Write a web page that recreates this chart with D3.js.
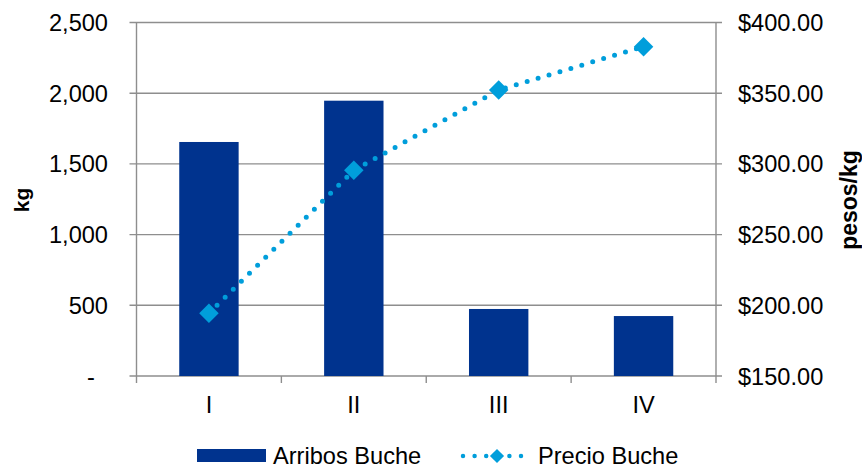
<!DOCTYPE html>
<html>
<head>
<meta charset="utf-8">
<script src="https://cdn.jsdelivr.net/npm/d3@7"></script>
<style>
  html, body { margin: 0; padding: 0; background: #fff; }
  svg { display: block; font-family: "Liberation Sans", Arial, sans-serif; }
</style>
</head>
<body>
<svg id="chart" width="862" height="468"></svg>
<script>
const categories = ["I", "II", "III", "IV"];
const arribos = [1655, 1947, 474, 424];
const precio = [194.3, 295.5, 352.3, 382.9];
const leftTicks = [0, 500, 1000, 1500, 2000, 2500];
const leftTickLabels = ["-\u2007", "500", "1,000", "1,500", "2,000", "2,500"];
const rightTicks = [150, 200, 250, 300, 350, 400];
const seriesNames = ["Arribos Buche", "Precio Buche"];

const barColor = "#00338e";
const lineColor = "#009edb";
const gridColor = "#8e8e8e";
const fs = 23.6;

const svg = d3.select("#chart");
const x0 = 136.5, x1 = 716, yTop = 22.5, yBot = 376;

const x = d3.scaleBand().domain(categories).range([x0, x1]).padding(0);
const yL = d3.scaleLinear().domain([0, 2500]).range([yBot, yTop]);
const yR = d3.scaleLinear().domain([150, 400]).range([yBot, yTop]);

// gridlines
svg.append("g").selectAll("line").data(leftTicks).join("line")
  .attr("x1", x0 - 7).attr("x2", x1 + 6)
  .attr("y1", d => yL(d)).attr("y2", d => yL(d))
  .attr("stroke", gridColor).attr("stroke-width", 1.4);

// vertical axis lines
svg.append("line").attr("x1", x0).attr("x2", x0).attr("y1", yTop).attr("y2", yBot + 7)
  .attr("stroke", gridColor).attr("stroke-width", 1.4);
svg.append("line").attr("x1", x1).attr("x2", x1).attr("y1", yTop).attr("y2", yBot + 7)
  .attr("stroke", gridColor).attr("stroke-width", 1.4);

// category boundary ticks
const bounds = categories.map(c => x(c)).slice(1);
svg.append("g").selectAll("line").data(bounds).join("line")
  .attr("x1", d => d).attr("x2", d => d).attr("y1", yBot).attr("y2", yBot + 7)
  .attr("stroke", gridColor).attr("stroke-width", 1.4);

// bars
const bw = x.bandwidth() * 0.41;
svg.append("g").selectAll("rect").data(arribos).join("rect")
  .attr("x", (d, i) => x(categories[i]) + x.bandwidth() / 2 - bw / 2)
  .attr("width", bw)
  .attr("y", d => yL(d))
  .attr("height", d => yBot - yL(d))
  .attr("fill", barColor);

// price line
const cx = i => x(categories[i]) + x.bandwidth() / 2;
const line = d3.line().x((d, i) => cx(i)).y(d => yR(d));
svg.append("path").datum(precio).attr("d", line)
  .attr("fill", "none").attr("stroke", lineColor).attr("stroke-width", 5)
  .attr("stroke-linecap", "round").attr("stroke-dasharray", "0 11.4");

const diamond = d3.symbol().type(d3.symbolSquare).size(190);
svg.append("g").selectAll("path").data(precio).join("path")
  .attr("d", diamond)
  .attr("transform", (d, i) => `translate(${cx(i)},${yR(d)}) rotate(45)`)
  .attr("fill", lineColor);

// left tick labels
svg.append("g").selectAll("text").data(leftTicks).join("text")
  .attr("x", 108).attr("y", d => yL(d) + 8.5)
  .attr("text-anchor", "end").attr("font-size", fs).attr("fill", "#000")
  .text((d, i) => leftTickLabels[i]);

// right tick labels
const fmt = d3.format("$,.2f");
svg.append("g").selectAll("text").data(rightTicks).join("text")
  .attr("x", 738).attr("y", d => yR(d) + 8.5)
  .attr("text-anchor", "start").attr("font-size", fs).attr("fill", "#000")
  .text(d => fmt(d));

// category labels
svg.append("g").selectAll("text").data(categories).join("text")
  .attr("x", (d, i) => cx(i)).attr("y", 413)
  .attr("text-anchor", "middle").attr("font-size", fs).attr("fill", "#000")
  .text(d => d);

// axis titles
svg.append("text").attr("transform", "translate(29,200) rotate(-90)")
  .attr("text-anchor", "middle").attr("font-size", 21).attr("font-weight", "bold")
  .text("kg");
svg.append("text").attr("transform", "translate(857,200) rotate(-90)")
  .attr("text-anchor", "middle").attr("font-size", 23).attr("font-weight", "bold")
  .text("pesos/kg");

// legend
const lg = svg.append("g");
lg.append("rect").attr("x", 197).attr("y", 449).attr("width", 69).attr("height", 13).attr("fill", barColor);
lg.append("text").attr("x", 273).attr("y", 464).attr("font-size", fs).text(seriesNames[0]);
lg.append("line").attr("x1", 463).attr("x2", 526).attr("y1", 456).attr("y2", 456)
  .attr("stroke", lineColor).attr("stroke-width", 4.5).attr("stroke-linecap", "round")
  .attr("stroke-dasharray", "0 11.6");
lg.append("path").attr("d", d3.symbol().type(d3.symbolSquare).size(100))
  .attr("transform", "translate(497,456) rotate(45)").attr("fill", lineColor);
lg.append("text").attr("x", 538).attr("y", 464).attr("font-size", fs).text(seriesNames[1]);
</script>
</body>
</html>
